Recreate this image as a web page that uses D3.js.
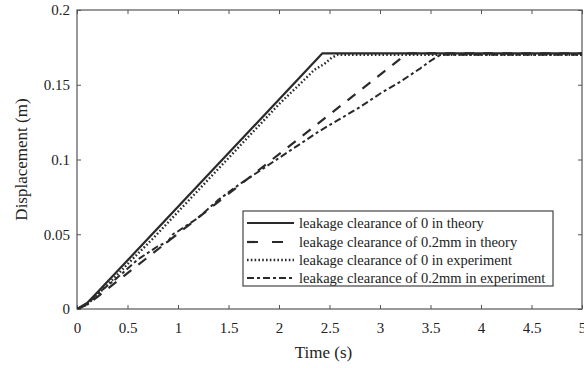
<!DOCTYPE html>
<html><head><meta charset="utf-8">
<script src="https://cdn.jsdelivr.net/npm/d3@7"></script>
<style>
html,body{margin:0;padding:0;background:#fff;}
svg{display:block;}
text{font-family:"Liberation Serif","Times New Roman",serif;fill:#222;}
</style></head><body>
<svg id="c" width="584" height="368"></svg>
<script>
// ---- data ----
const xTicks = [0,0.5,1,1.5,2,2.5,3,3.5,4,4.5,5];
const xTickLabels = ["0","0.5","1","1.5","2","2.5","3","3.5","4","4.5","5"];
const yTicks = [0,0.05,0.1,0.15,0.2];
const yTickLabels = ["0","0.05","0.1","0.15","0.2"];

const seriesNames = [
  "leakage clearance of 0 in theory",
  "leakage clearance of 0.2mm in theory",
  "leakage clearance of 0 in experiment",
  "leakage clearance of 0.2mm in experiment"
];

const theory0T = [0, 0.1, 0.2, 2.43, 5];
const theory0Y = [0, 0.004, 0.011, 0.171, 0.171];

const theory02T = [0, 0.1, 0.2, 3.27, 5];
const theory02Y = [0, 0.003, 0.008, 0.171, 0.171];

const exp0T = [0, 0.1, 0.3, 0.5, 0.75, 1, 1.25, 1.5, 1.75, 2, 2.2, 2.35, 2.45, 2.52, 2.58, 3, 3.5, 4, 4.5, 5];
const exp0Y = [0, 0.003, 0.016, 0.030, 0.047, 0.065, 0.083, 0.101, 0.119, 0.137, 0.150, 0.160, 0.164, 0.168, 0.170, 0.170, 0.170, 0.170, 0.170, 0.170];

const exp02T = [0, 0.1, 0.2, 0.4, 0.6, 0.8, 0.9, 0.95, 1.0, 1.2, 1.4, 1.6, 1.8, 2.0, 2.2, 2.4, 2.6, 2.8, 3.0, 3.2, 3.4, 3.5, 3.6, 4, 4.5, 5];
const exp02Y = [0, 0.003, 0.010, 0.021, 0.033, 0.042, 0.045, 0.050, 0.052, 0.061, 0.073, 0.083, 0.092, 0.101, 0.110, 0.119, 0.127, 0.135, 0.144, 0.152, 0.161, 0.166, 0.170, 0.170, 0.170, 0.170];

// ---- layout ----
const L = 77, R = 582, T = 10, B = 309;
const svg = d3.select("#c");
const x = d3.scaleLinear().domain([0,5]).range([L,R]);
const y = d3.scaleLinear().domain([0,0.2]).range([B,T]);

const axisColor = "#555";
const lineColor = "#2a2a2a";

// box
svg.append("rect").attr("x",L).attr("y",T).attr("width",R-L).attr("height",B-T)
  .attr("fill","none").attr("stroke",axisColor).attr("stroke-width",1.2);

// axes (ticks inward)
const gx = svg.append("g").attr("transform",`translate(0,${B})`)
  .call(d3.axisBottom(x).tickValues(xTicks).tickSizeInner(-4).tickSizeOuter(0).tickPadding(13)
    .tickFormat((d,i)=>xTickLabels[i]));
const gy = svg.append("g").attr("transform",`translate(${L},0)`)
  .call(d3.axisLeft(y).tickValues(yTicks).tickSizeInner(-4).tickSizeOuter(0).tickPadding(7)
    .tickFormat((d,i)=>yTickLabels[i]));
const gxt = svg.append("g").attr("transform",`translate(0,${T})`)
  .call(d3.axisTop(x).tickValues(xTicks).tickSizeInner(-4).tickSizeOuter(0).tickFormat(""));
const gyr = svg.append("g").attr("transform",`translate(${R},0)`)
  .call(d3.axisRight(y).tickValues(yTicks).tickSizeInner(-4).tickSizeOuter(0).tickFormat(""));
[gx,gy,gxt,gyr].forEach(g=>{
  g.select(".domain").remove();
  g.selectAll(".tick line").attr("stroke",axisColor).attr("stroke-width",1);
  g.selectAll(".tick text").attr("font-size",15).attr("fill","#222")
    .attr("font-family","Liberation Serif, Times New Roman, serif");
});

// axis titles
svg.append("text").attr("x",(L+R)/2 - 6).attr("y",358).attr("text-anchor","middle")
  .attr("font-size",17).text("Time (s)");
svg.append("text").attr("transform",`translate(27,${(T+B)/2}) rotate(-90)`)
  .attr("text-anchor","middle").attr("font-size",17).text("Displacement (m)");

// lines
const styles = [
  {dash:null, w:2.2},
  {dash:"10,9", w:2.2},
  {dash:"1.6,2.2", w:2.4},
  {dash:"7,3,3,3", w:2}
];
const seriesT = [theory0T, theory02T, exp0T, exp02T];
const seriesY = [theory0Y, theory02Y, exp0Y, exp02Y];
const line = d3.line().x(d=>x(d[0])).y(d=>y(d[1]));
svg.append("clipPath").attr("id","pc").append("rect")
  .attr("x",L).attr("y",T).attr("width",R-L).attr("height",B-T);
const plot = svg.append("g").attr("clip-path","url(#pc)");
[1,3,2,0].forEach(i=>{
  const pts = seriesT[i].map((t,j)=>[t,seriesY[i][j]]);
  plot.append("path").attr("d",line(pts)).attr("fill","none")
    .attr("stroke",lineColor).attr("stroke-width",styles[i].w)
    .attr("stroke-dasharray",styles[i].dash)
    .attr("stroke-linejoin","round");
});

// legend
const lg = svg.append("g");
const lx = 243, ly = 211, lw = 310, lh = 75;
lg.append("rect").attr("x",lx).attr("y",ly).attr("width",lw).attr("height",lh)
  .attr("fill","#fff").attr("stroke","#444").attr("stroke-width",1.2);
const rowY = [223, 242, 260, 278];
seriesNames.forEach((name,i)=>{
  lg.append("line").attr("x1",247).attr("x2",294).attr("y1",rowY[i]).attr("y2",rowY[i])
    .attr("stroke",lineColor).attr("stroke-width",styles[i].w)
    .attr("stroke-dasharray", i===1 ? "11,14" : styles[i].dash);
  lg.append("text").attr("x",299).attr("y",rowY[i]+4.5).attr("font-size",14.5).text(name);
});
</script>
</body></html>
